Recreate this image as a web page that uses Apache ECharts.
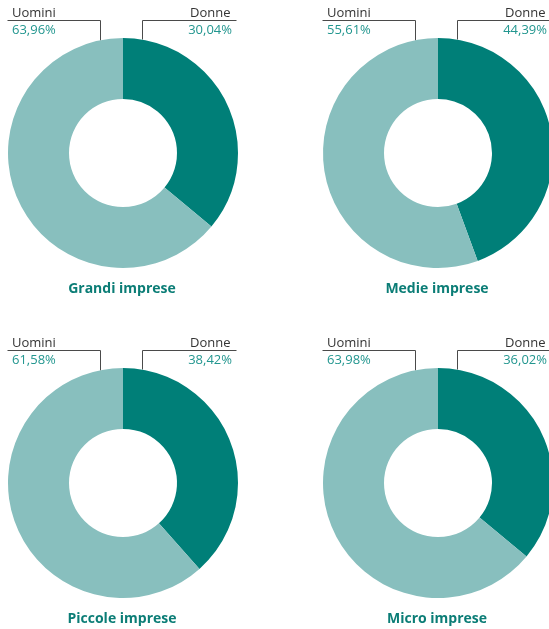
<!DOCTYPE html>
<html>
<head>
<meta charset="utf-8">
<script src="https://cdn.jsdelivr.net/npm/echarts@6/dist/echarts.min.js"></script>
<style>html,body{margin:0;padding:0;background:#fff}#c{width:549px;height:629px}</style>
</head>
<body>
<div id="c"></div>
<script>
// Data
const panelTitles = ['Grandi imprese', 'Medie imprese', 'Piccole imprese', 'Micro imprese'];
const seriesNames = ['Donne', 'Uomini'];
const donneSlice = [36.04, 44.39, 38.42, 36.02];
const uominiSlice = [63.96, 55.61, 61.58, 63.98];
// percentages as printed in the labels
const donnePrinted = [30.04, 44.39, 38.42, 36.02];
const uominiPrinted = [63.96, 55.61, 61.58, 63.98];

const darkTeal = '#007f78';
const lightTeal = '#88bfbe';
const pctColor = '#22968f';
const titleColor = '#0b7d76';
const lineColor = '#4a4a4a';
const font = '"Open Sans", "Noto Sans", sans-serif';

const centers = [[123, 153], [438, 153], [123, 483], [438, 483]];
const fmt = v => v.toFixed(2).replace('.', ',') + '%';

const chart = echarts.init(document.getElementById('c'), null, {renderer: 'canvas'});
const series = [];
const graphic = [];
panelTitles.forEach((t, i) => {
  const [cx, cy] = centers[i];
  series.push({
    type: 'pie',
    center: [cx, cy],
    radius: [54, 115],
    startAngle: 90,
    clockwise: true,
    silent: true,
    label: {show: false},
    labelLine: {show: false},
    itemStyle: {borderWidth: 0},
    data: [
      {name: seriesNames[0], value: donneSlice[i], itemStyle: {color: darkTeal}},
      {name: seriesNames[1], value: uominiSlice[i], itemStyle: {color: lightTeal}}
    ]
  });
  const lx = cx - 22.5, rx = cx + 19.5, ly = cy - 132.5;
  // left leader
  graphic.push({type: 'polyline', silent: true,
    shape: {points: [[cx - 115.5, ly], [lx, ly], [lx, cy - 112.5]]},
    style: {stroke: lineColor, lineWidth: 1, fill: null}});
  graphic.push({type: 'polyline', silent: true,
    shape: {points: [[cx + 113.5, ly], [rx, ly], [rx, cy - 113.5]]},
    style: {stroke: lineColor, lineWidth: 1, fill: null}});
  graphic.push({type: 'text', silent: true, x: cx - 111, y: cy - 140,
    style: {text: seriesNames[1], font: '13px ' + font, fill: '#333', align: 'left', verticalAlign: 'middle'}});
  graphic.push({type: 'text', silent: true, x: cx - 111, y: cy - 123,
    style: {text: fmt(uominiPrinted[i]), font: '13px ' + font, fill: pctColor, align: 'left', verticalAlign: 'middle'}});
  graphic.push({type: 'text', silent: true, x: cx + 107.5, y: cy - 140,
    style: {text: seriesNames[0], font: '13px ' + font, fill: '#333', align: 'right', verticalAlign: 'middle'}});
  graphic.push({type: 'text', silent: true, x: cx + 109, y: cy - 123,
    style: {text: fmt(donnePrinted[i]), font: '13px ' + font, fill: pctColor, align: 'right', verticalAlign: 'middle'}});
  graphic.push({type: 'text', silent: true, x: cx - 1, y: cy + 136,
    style: {text: t, font: 'bold 14px ' + font, fill: titleColor, align: 'center', verticalAlign: 'middle'}});
});

chart.setOption({
  animation: false,
  backgroundColor: '#fff',
  series: series,
  graphic: graphic
});
</script>
</body>
</html>
